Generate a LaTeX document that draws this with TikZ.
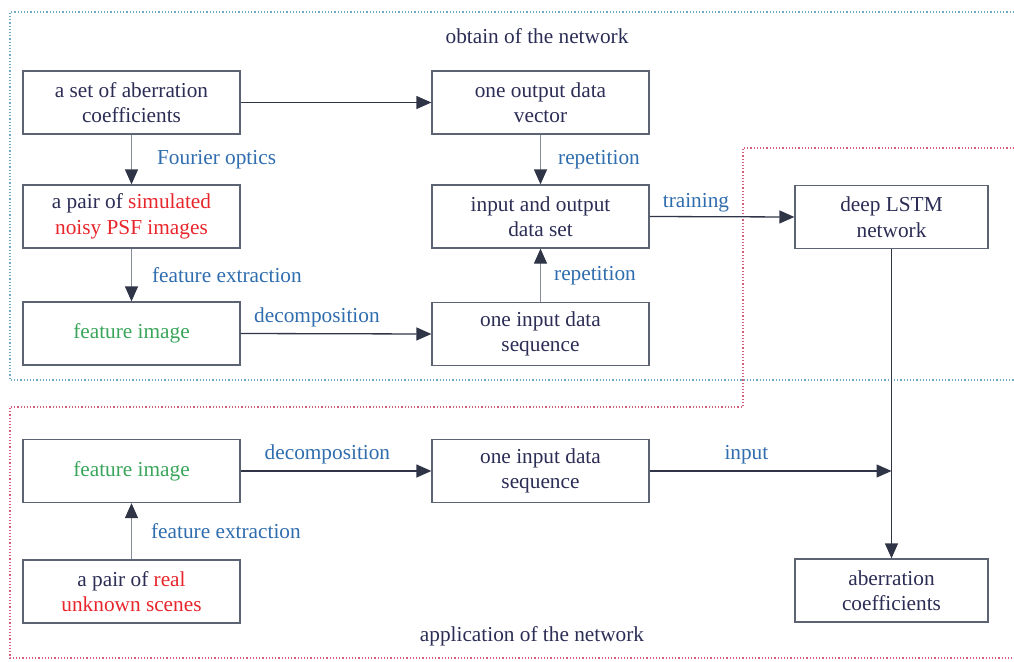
\documentclass[tikz,border=0pt]{standalone}
\usepackage{fontspec}
\setmainfont{Liberation Serif}
\usetikzlibrary{arrows.meta}
\definecolor{txt}{HTML}{2B2D55}
\definecolor{lbl}{HTML}{2F6DAE}
\definecolor{rd}{HTML}{E8252B}
\definecolor{gr}{HTML}{3AA55A}
\definecolor{bx}{HTML}{5C6372}
\definecolor{ln}{HTML}{2F3547}
\definecolor{lgray}{HTML}{858B98}
\definecolor{bdot}{HTML}{6FA9C4}
\definecolor{rdot}{HTML}{D45C7C}
\tikzset{
  box/.style={draw=bx, line width=1.3pt, minimum width=217pt, minimum height=63pt, align=center, text=txt, inner sep=0pt, font=\fontsize{21.3}{25.5}\selectfont},
  sbox/.style={box, minimum width=193pt},
  lab/.style={text=lbl, font=\fontsize{21.3}{25}\selectfont, inner sep=0pt},
  ttl/.style={text=txt, font=\fontsize{21.3}{25}\selectfont, inner sep=0pt},
  arr/.style={draw=ln, line width=1.3pt, -{Triangle[length=15pt,width=13pt]}},
  garr/.style={arr, draw=lgray, -{Triangle[length=15pt,width=13pt,color=ln]}},
  bline/.style={draw=bdot, line width=1.2pt, dotted},
  rline/.style={draw=rdot, line width=1.2pt, dotted}
}
\begin{document}
\begin{tikzpicture}[x=1pt,y=-1pt]
\useasboundingbox (0,0) rectangle (1014,661);
% regions
\draw[bline] (1014,12) -- (10,12) -- (10,380) -- (1014,380);
\draw[rline] (1014,148) -- (743,148) -- (743,407) -- (10,407) -- (10,658) -- (1014,658);
\node[ttl] (t1) at (537,36) {obtain of the network};
\node[ttl] (t2) at (532,636) {application of the network};
% boxes
\node[box] (A) at (131.5,102.5) {a set of aberration\\coefficients};
\node[box] (B) at (540.5,102.5) {one output data\\vector};
\node[box] (C) at (131.5,216.5) {a pair of \textcolor{rd}{simulated}\\\textcolor{rd}{noisy PSF images}};
\node[box] (D) at (540.5,216.5) {input and output\\data set};
\node[sbox] (E) at (891.5,217) {deep LSTM\\network};
\node[box] (F) at (131.5,333.5) {\textcolor{gr}{feature image}};
\node[box] (G) at (540.5,334) {one input data\\sequence};
\node[box] (H) at (131.5,471) {\textcolor{gr}{feature image}};
\node[box] (I) at (540.5,471) {one input data\\sequence};
\node[box] (J) at (131.5,591.5) {a pair of \textcolor{rd}{real}\\\textcolor{rd}{unknown scenes}};
\node[sbox] (K) at (891.5,590.5) {aberration\\coefficients};
\coordinate (M) at (891.5,471);
% connectors
\draw[arr] (A.east) -- (B.west);
\draw[garr] (A) -- (C) node[lab, pos=0.5, right=25pt] {Fourier optics};
\draw[garr] (B) -- (D) node[lab, pos=0.5, right=17pt] {repetition};
\draw[garr] (C) -- (F) node[lab, pos=0.5, right=20pt] {feature extraction};
\draw[arr] (F.east) -- (G.west) node[lab, pos=0.40, above=6pt] {decomposition};
\draw[garr] (G) -- (D) node[lab, pos=0.5, right=13pt] {repetition};
\draw[arr] (D.east) -- (E.west) node[lab, pos=0.32, above=4pt] {training};
\draw[arr] (E) -- (K);
\draw[arr] (H.east) -- (I.west) node[lab, pos=0.455, above=6pt] {decomposition};
\draw[arr] (I.east) -- (M) node[lab, pos=0.40, above=6pt] {input};
\draw[garr] (J) -- (H) node[lab, pos=0.5, right=19pt] {feature extraction};
\end{tikzpicture}
\end{document}
